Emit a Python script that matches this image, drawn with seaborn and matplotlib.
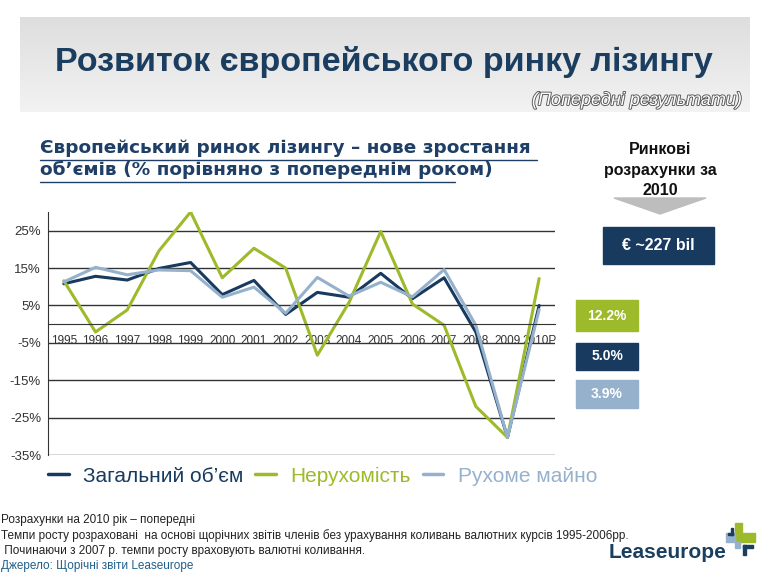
import numpy as np
import pandas as pd
import matplotlib
matplotlib.use('Agg')
from matplotlib import pyplot as plt
from matplotlib.patches import Rectangle, Polygon
from matplotlib import patheffects as pe
from matplotlib.lines import Line2D
import seaborn as sns

# data
years = ['1995', '1996', '1997', '1998', '1999', '2000', '2001', '2002',
         '2003', '2004', '2005', '2006', '2007', '2008', '2009', '2010P']
total = [10.8, 12.8, 11.8, 14.9, 16.5, 7.9, 11.7, 2.6,
         8.5, 7.2, 13.6, 6.8, 12.4, -2.1, -30.3, 5.0]
real_estate = [11.6, -2.1, 3.8, 19.6, 30.0, 12.4, 20.3, 15.0,
               -8.3, 5.8, 24.8, 5.4, -0.3, -22.0, -30.3, 12.2]
equipment = [11.3, 15.2, 13.2, 14.5, 14.3, 7.2, 9.9, 2.9,
             12.5, 7.5, 11.2, 7.3, 14.6, -0.3, -30.3, 3.9]
series_names = ['Загальний об\u2019єм', 'Нерухомість', 'Рухоме майно']
estimates_2010 = ['12.2%', '5.0%', '3.9%']
yticks = [-35, -25, -15, -5, 5, 15, 25]

navy = '#173a5e'
green = '#9dba2a'
lblue = '#95b1cc'
colors = [navy, green, lblue]

df = pd.DataFrame({'year': years * 3,
                   'value': total + real_estate + equipment,
                   'series': sum([[n] * len(years) for n in series_names], [])})

sns.set_style('white')
plt.rcParams['font.family'] = ['Liberation Sans', 'DejaVu Sans']

W, H = 770, 577
fig = plt.figure(figsize=(W / 100, H / 100), dpi=100)


def fx(px):
    return px / W


def fy(py):
    return 1 - py / H


# banner
bax = fig.add_axes([fx(20), fy(112), fx(730), 95 / H])
grad = np.linspace(0.87, 0.95, 100).reshape(-1, 1)
bax.imshow(np.dstack([grad, grad, grad]), aspect='auto', extent=[0, 1, 0, 1])
bax.axis('off')
fig.text(fx(384), fy(62), 'Розвиток європейського ринку лізингу', ha='center', va='center',
         fontsize=24.5, fontweight='bold', color='#1b3d5f')
fig.text(fx(741), fy(100), '(Попередні результати)', ha='right', va='center',
         fontsize=13, style='italic', color='white',
         path_effects=[pe.withStroke(linewidth=1.3, foreground='#555555')])

# heading
head_col = '#1f3f66'
fig.text(fx(40), fy(148), 'Європейський ринок лізингу – нове зростання', ha='left', va='center',
         fontsize=13.3, fontweight='bold', color=head_col, family='DejaVu Sans')
fig.text(fx(40), fy(170), 'об\u2019ємів (% порівняно з попереднім роком)', ha='left', va='center',
         fontsize=13.3, fontweight='bold', color=head_col, family='DejaVu Sans')
fig.add_artist(Line2D([fx(40), fx(537)], [fy(160), fy(160)], color=head_col, lw=1))
fig.add_artist(Line2D([fx(40), fx(455)], [fy(182), fy(182)], color=head_col, lw=1))

# main chart
ax = fig.add_axes([fx(48), fy(455), fx(507), 243 / H])
sns.lineplot(data=df, x='year', y='value', hue='series', palette=colors,
             linewidth=2.2, ax=ax, legend=False, sort=False)
ax.set_xlim(-0.5, len(years) - 0.5)
ax.set_ylim(-35, 30)
ax.set_yticks(yticks)
ax.set_yticklabels([f'{t}%' for t in yticks], fontsize=9.5, color='#333333')
ax.yaxis.grid(True, color='#333333', lw=1)
ax.set_axisbelow(True)
ax.set_xlabel('')
ax.set_ylabel('')
for s in ['top', 'right']:
    ax.spines[s].set_visible(False)
ax.spines['left'].set_color('#333333')
ax.spines['bottom'].set_position(('data', 0))
ax.spines['bottom'].set_color('#333333')
ax.set_xticks(range(len(years)))
ax.set_xticklabels(years, fontsize=8.5, color='#333333')
ax.set_xticks(np.arange(-0.5, len(years)), minor=True)
ax.tick_params(axis='x', which='major', length=0, pad=8)
ax.tick_params(axis='x', which='minor', length=4, direction='out', color='#333333')
ax.tick_params(axis='y', length=3, pad=2, color='#333333')

# legend
handles = [Line2D([], [], color=c, lw=2.5) for c in colors]
leg = fig.legend(handles, series_names, loc='center left', bbox_to_anchor=(fx(48), fy(476)),
                 ncol=3, frameon=False, handlelength=1.0, columnspacing=0.55,
                 handletextpad=0.7, borderpad=0, borderaxespad=0, labelcolor=colors,
                 prop={'size': 15})

# right panel
fig.text(fx(660), fy(170), 'Ринкові\nрозрахунки за\n2010', ha='center', va='center',
         fontsize=11.5, fontweight='bold', color='#111111', linespacing=1.45)
fig.add_artist(Polygon([[fx(614), fy(198)], [fx(706), fy(198)], [fx(660), fy(214)]],
                       closed=True, color='#bdbdbd', zorder=0))
fig.add_artist(Rectangle((fx(603), fy(264)), fx(111), 37 / H, color=navy))
fig.text(fx(658), fy(246), '€ ~227 bil', ha='center', va='center', fontsize=11.5,
         fontweight='bold', color='white')
boxes = [(300, 331, green), (343, 370, navy), (380, 408, lblue)]
for (top, bot, c), lab in zip(boxes, estimates_2010):
    fig.add_artist(Rectangle((fx(576), fy(bot)), fx(62), (bot - top) / H, color=c))
    fig.text(fx(607), fy((top + bot) / 2), lab, ha='center', va='center', fontsize=10,
             fontweight='bold', color='white')

# footnotes
notes = ['Розрахунки на 2010 рік – попередні',
         'Темпи росту розраховані  на основі щорічних звітів членів без урахування коливань валютних курсів 1995-2006рр.',
         ' Починаючи з 2007 р. темпи росту враховують валютні коливання.',
         'Джерело: Щорічні звіти Leaseurope']
for i, n in enumerate(notes):
    fig.text(fx(1), fy(520 + 15.3 * i), n, ha='left', va='center', fontsize=8.5,
             color='#1f5f8b' if i == 3 else '#222222')

# logo
fig.text(fx(609), fy(552), 'Leaseurope', ha='left', va='center', fontsize=15,
         fontweight='bold', color='#1b3f5e')
logo = [(735, 523, 7, 19, green), (742, 533, 13, 9, green), (726, 533, 9, 9, lblue),
        (735, 542, 5, 6, lblue), (743, 545, 10, 3, '#1b3f5e'), (743, 545, 3, 10, '#1b3f5e'),
        (728, 533, 5, 2, '#1b3f5e'), (731, 528, 2, 7, '#1b3f5e')]
for x0, y0, w, h, c in logo:
    fig.add_artist(Rectangle((fx(x0), fy(y0 + h)), fx(w), h / H, color=c))

fig.savefig('out.png', dpi=100)
